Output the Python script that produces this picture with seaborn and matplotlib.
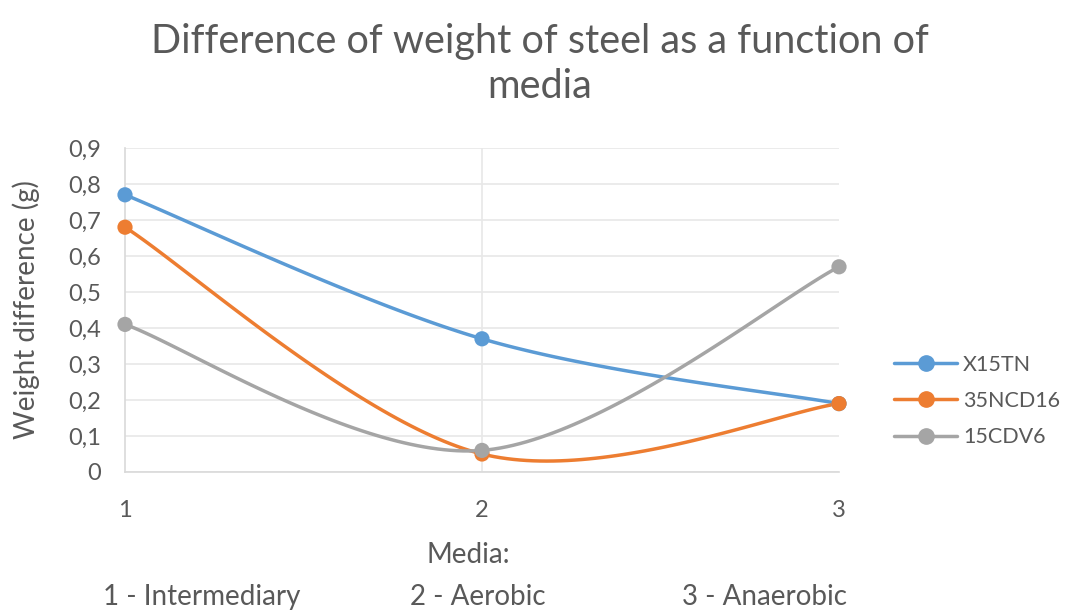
import numpy as np
import pandas as pd
import matplotlib
matplotlib.use("Agg")
import matplotlib.pyplot as plt
import seaborn as sns
from matplotlib.ticker import FuncFormatter

media = [1, 2, 3]
x15tn = [0.77, 0.37, 0.19]
ncd16 = [0.68, 0.05, 0.19]
cdv6 = [0.41, 0.06, 0.57]
series_names = ["X15TN", "35NCD16", "15CDV6"]
media_names = ["1 - Intermediary", "2 - Aerobic", "3 - Anaerobic"]
colors = ["#5B9BD5", "#ED7D31", "#A5A5A5"]

df = pd.DataFrame({"Media": media * 3,
                   "Weight": x15tn + ncd16 + cdv6,
                   "Steel": [n for n in series_names for _ in media]})


def smooth(xs, ys, n=60):
    # excel-like smoothed line (catmull-rom as bezier)
    p = np.column_stack([xs, ys]).astype(float)
    p = np.vstack([p[0], p, p[-1]])
    out = []
    for i in range(1, len(p) - 2):
        p0, p1, p2, p3 = p[i - 1], p[i], p[i + 1], p[i + 2]
        b1 = p1 + (p2 - p0) / 6
        b2 = p2 - (p3 - p1) / 6
        t = np.linspace(0, 1, n)[:, None]
        seg = ((1 - t) ** 3) * p1 + 3 * ((1 - t) ** 2) * t * b1 + 3 * (1 - t) * t ** 2 * b2 + t ** 3 * p2
        out.append(seg)
    out = np.vstack(out)
    return out[:, 0], out[:, 1]


sns.set_style("white")
plt.rcParams['font.family'] = ['Lato', 'DejaVu Sans']
txt = "#595959"
W, H = 1092, 613

fig = plt.figure(figsize=(10.92, 6.13), dpi=100)
ax = fig.add_axes([125 / W, 1 - 472 / H, (839 - 125) / W, (472 - 148) / H])

for name, c in zip(series_names, colors):
    d = df[df["Steel"] == name]
    sx, sy = smooth(d["Media"].values, d["Weight"].values)
    ax.plot(sx, sy, color=c, lw=2.5, zorder=3, clip_on=False)
sns.scatterplot(data=df, x="Media", y="Weight", hue="Steel", palette=colors,
                s=120, edgecolor="none", legend=False, ax=ax, zorder=4, clip_on=False)

ax.set_xlim(1, 3)
ax.set_ylim(0, 0.9)
ax.set_xticks(media)
ax.set_yticks(np.arange(0, 0.91, 0.1))
ax.yaxis.set_major_formatter(FuncFormatter(lambda v, p: "0" if abs(v) < 1e-9 else f"{v:.1f}".replace(".", ",")))
ax.grid(axis="y", color="#E8E8E8", lw=1.2)
ax.axvline(2, color="#E8E8E8", lw=1.2, zorder=0)
for s in ["top", "right"]:
    ax.spines[s].set_visible(False)
for s in ["left", "bottom"]:
    ax.spines[s].set_color("#D9D9D9")
    ax.spines[s].set_linewidth(1.2)
ax.tick_params(colors=txt, labelsize=17, length=0)
ax.tick_params(axis="y", pad=17)
ax.tick_params(axis="x", pad=20)
ax.set_xlabel("")
ax.set_ylabel("Weight difference (g)", color=txt, fontsize=20, labelpad=8)
ax.yaxis.set_label_coords(40 / W, 1 - 310 / H, transform=fig.transFigure)

fig.text(468 / W, 1 - 555 / H, "Media:", color=txt, fontsize=20, ha="center", va="center")
for xc, lab in zip([202, 478, 764], media_names):
    fig.text(xc / W, 1 - 597 / H, lab, color=txt, fontsize=20, ha="center", va="center")

fig.text(540 / W, 1 - 64 / H, "Difference of weight of steel as a function of\nmedia", color=txt,
         fontsize=28.5, ha="center", va="center", linespacing=1.25)

handles = [plt.Line2D([], [], color=c, lw=2.5, marker="o", markersize=11) for c in colors]
fig.legend(handles, series_names, loc="center left", bbox_to_anchor=(875 / W, 1 - 401 / H),
           frameon=False, fontsize=15.5, labelcolor=txt, handlelength=2.9, labelspacing=0.75,
           handletextpad=0.3)

fig.savefig("out.png", dpi=100)
